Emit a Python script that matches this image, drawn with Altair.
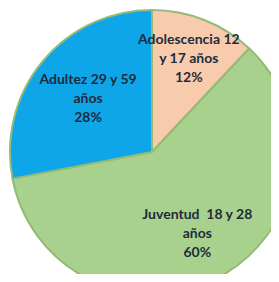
import altair as alt
import pandas as pd

names = ["Adolescencia 12\ny 17 años", "Juventud\u00a0 18 y 28\naños", "Adultez 29 y 59\naños"]
values = [12, 60, 28]
colors = ["#F8CBAD", "#A9D18E", "#0FA6E9"]

df = pd.DataFrame({
    "name": names,
    "value": values,
    "idx": list(range(len(names))),
})
df["label"] = df["name"] + "\n" + df["value"].astype(str) + "%"

theta_scale = alt.Scale(domain=[0, sum(values)])

base = alt.Chart(df).transform_window(
    cum="sum(value)", sort=[alt.SortField("idx")], frame=[None, 0]
).transform_calculate(
    start="datum.cum - datum.value",
    mid="datum.cum - datum.value / 2",
)

arcs = base.mark_arc(radius=142, stroke="#93BA76", strokeWidth=2).encode(
    theta=alt.Theta("start:Q", scale=theta_scale),
    theta2="cum:Q",
    color=alt.Color("name:N", scale=alt.Scale(domain=names, range=colors), legend=None),
    x=alt.value(144),
    y=alt.value(144),
)

label_radius = {0: 100, 1: 94, 2: 83}
texts = []
for k, r in label_radius.items():
    texts.append(
        base.transform_filter(alt.datum.idx == k).mark_text(
            radius=r, lineBreak="\n", font="Lato", fontWeight="bold", fontSize=14,
            dy=-19, lineHeight=19, color="#1E2B3C", align="center", baseline="middle",
        ).encode(
            theta=alt.Theta("mid:Q", scale=theta_scale),
            text="label:N",
            x=alt.value(144),
            y=alt.value(144),
        )
    )

chart = alt.layer(arcs, *texts).properties(
    width=263, height=266, padding=0, autosize=alt.AutoSizeParams(type="none")
).configure_view(stroke=None)

chart.save("out.html", embed_options={"renderer": "svg", "actions": False})
